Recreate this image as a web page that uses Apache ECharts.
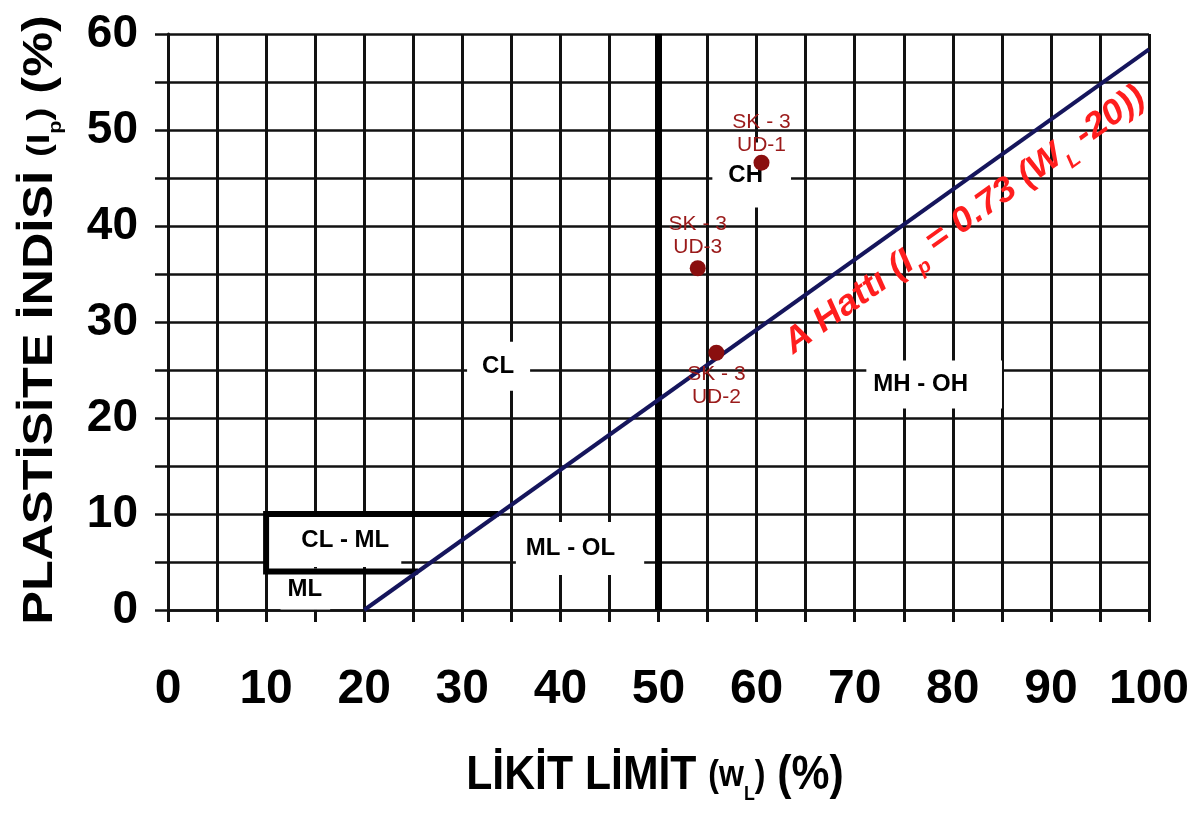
<!DOCTYPE html>
<html><head><meta charset="utf-8">
<script src="https://cdn.jsdelivr.net/npm/echarts@6/dist/echarts.min.js"></script>
<style>html,body{margin:0;padding:0;background:#fff}#c{width:1199px;height:814px}</style>
</head><body><div id="c"></div>
<script>
// ---- data ----
const xTickLabels = ['0','10','20','30','40','50','60','70','80','90','100'];
const yTickLabels = ['0','10','20','30','40','50','60'];
const sampleNames = ['SK - 3\nUD-1', 'SK - 3\nUD-3', 'SK - 3\nUD-2'];
const sampleWL = [60.5, 54.0, 55.9];
const samplePI = [46.6, 35.6, 26.8];
const aLineWL = [20, 100];
const aLinePI = [0, 58.4];
const uLineWL = [50, 50];
const uLinePI = [0, 60];
const clmlWL = [33.7, 10, 10, 25.5];
const clmlPI = [10, 10, 4, 4];
const zoneNames = ['CH', 'CL', 'MH - OH', 'ML - OL', 'CL - ML', 'ML'];
const zoneWL = [59.5, 33.7, 78.1, 42.0, 16.9, 14.0];
const zonePI = [45.3, 25.4, 23.5, 6.4, 7.3, 2.2];
const aLineLabelWL = 81.2;
const aLineLabelPI = 40.6;

// ---- styles ----
const SANS = "'Liberation Sans', Arial, sans-serif";
const zonePad = [[22,28,19,16],[15,16,10,15],[8,34,16,7],[22,29,7,10],[18,12,12,35],[12,8,5,7]];
const sampleLabelPos = ['top', 'top', 'bottom'];
const sampleLabelDist = [-2, 2, 2];

const zip = (a, b) => a.map((v, i) => [v, b[i]]);

const chart = echarts.init(document.getElementById('c'), null, {renderer: 'canvas'});
chart.setOption({
  animation: false,
  backgroundColor: '#fff',
  grid: {left: 168, right: 50, top: 34, bottom: 204, containLabel: false},
  xAxis: {
    type: 'value', min: 0, max: 100, interval: 5,
    axisLine: {show: true, onZero: false, lineStyle: {color: '#111', width: 2.5}},
    axisTick: {show: true, length: 12, lineStyle: {color: '#111', width: 3}},
    axisLabel: {
      formatter: v => xTickLabels.includes(String(v)) ? String(v) : '',
      fontFamily: SANS, fontWeight: 'bold', fontSize: 48, color: '#000', margin: 56
    },
    splitLine: {show: true, lineStyle: {color: '#111', width: 3}}
  },
  yAxis: {
    type: 'value', min: 0, max: 60, interval: 5,
    axisLine: {show: true, lineStyle: {color: '#111', width: 3}},
    axisTick: {show: true, length: 13, lineStyle: {color: '#111', width: 2.5}},
    axisLabel: {
      formatter: v => yTickLabels.includes(String(v)) ? String(v) : '',
      fontFamily: SANS, fontWeight: 'bold', fontSize: 46, color: '#000', margin: 30
    },
    splitLine: {show: true, lineStyle: {color: '#111', width: 2.5}}
  },
  series: [
    {
      type: 'scatter', z: 1, symbolSize: 0, silent: true,
      itemStyle: {opacity: 1},
      data: zoneNames.map((n, i) => ({
        value: [zoneWL[i], zonePI[i]], name: n,
        label: {padding: zonePad[i]}
      })),
      label: {
        show: true, position: 'inside', formatter: p => p.name,
        fontFamily: SANS, fontWeight: 'bold', fontSize: 24, color: '#000',
        backgroundColor: '#fff', opacity: 1
      }
    },
    {
      type: 'line', z: 4, data: zip(uLineWL, uLinePI), symbol: 'none',
      lineStyle: {color: '#000', width: 7}
    },
    {
      type: 'line', z: 4, data: zip(clmlWL, clmlPI), symbol: 'none',
      lineStyle: {color: '#000', width: 6, join: 'miter'}
    },
    {
      type: 'line', z: 5, data: zip(aLineWL, aLinePI), symbol: 'none',
      lineStyle: {color: '#15155c', width: 4}
    },
    {
      type: 'scatter', z: 6, symbolSize: 16,
      itemStyle: {color: '#8a0f0f', opacity: 1},
      data: sampleNames.map((n, i) => ({
        value: [sampleWL[i], samplePI[i]], name: n,
        label: {position: sampleLabelPos[i], distance: sampleLabelDist[i]}
      })),
      label: {
        show: true, formatter: p => p.name,
        fontFamily: SANS, fontSize: 21, lineHeight: 23, color: '#9a1a1a', align: 'center', opacity: 1
      }
    }
  ]
});

// rotated A-line annotation, placed through the chart's own scales
const p0 = chart.convertToPixel({gridIndex: 0}, [aLineWL[0], aLinePI[0]]);
const p1 = chart.convertToPixel({gridIndex: 0}, [aLineWL[1], aLinePI[1]]);
const ang = Math.atan2(p0[1] - p1[1], p1[0] - p0[0]);
const pc = chart.convertToPixel({gridIndex: 0}, [aLineLabelWL, aLineLabelPI]);

const redStyle = {fontFamily: SANS, fontWeight: 'bold', fontStyle: 'italic', fontSize: 35, fill: '#ff1e1e', lineHeight: 50};
const redSub = {fontFamily: SANS, fontWeight: 'bold', fontStyle: 'italic', fontSize: 20, fill: '#ff1e1e', lineHeight: 50, verticalAlign: 'bottom'};

chart.setOption({
  graphic: [
    {
      type: 'text', x: pc[0], y: pc[1], rotation: ang, z: 20, scaleX: 1.05,
      style: {
        text: '{a|A Hattı (I}{s|p}{a| = 0.73 (W}{s|L}{a| -20))}',
        align: 'center', verticalAlign: 'middle',
        rich: {a: redStyle, s: redSub}
      }
    },
    {
      type: 'text', x: 40, y: 320, rotation: Math.PI / 2, z: 20, scaleX: 1.2,
      style: {
        text: '{a|PLASTİSİTE İNDİSİ }{b|(I}{s|p}{b|)}{a| (%)}',
        align: 'center', verticalAlign: 'middle',
        rich: {
          a: {fontFamily: SANS, fontWeight: 'bold', fontSize: 42, fill: '#000', lineHeight: 50},
          b: {fontFamily: SANS, fontWeight: 'bold', fontSize: 32, fill: '#000', lineHeight: 50},
          s: {fontFamily: SANS, fontWeight: 'bold', fontSize: 18, fill: '#000', lineHeight: 50, verticalAlign: 'bottom'}
        }
      }
    },
    {
      type: 'text', x: 655, y: 776, z: 20, scaleX: 0.89,
      style: {
        text: '{a|LİKİT LİMİT }{b|(w}{s|L}{b|)}{a| (%)}',
        align: 'center', verticalAlign: 'middle',
        rich: {
          a: {fontFamily: SANS, fontWeight: 'bold', fontSize: 48, fill: '#000', lineHeight: 56},
          b: {fontFamily: SANS, fontWeight: 'bold', fontSize: 36, fill: '#000', lineHeight: 56},
          s: {fontFamily: SANS, fontWeight: 'bold', fontSize: 20, fill: '#000', lineHeight: 56, verticalAlign: 'bottom'}
        }
      }
    }
  ]
});
</script>
</body></html>
